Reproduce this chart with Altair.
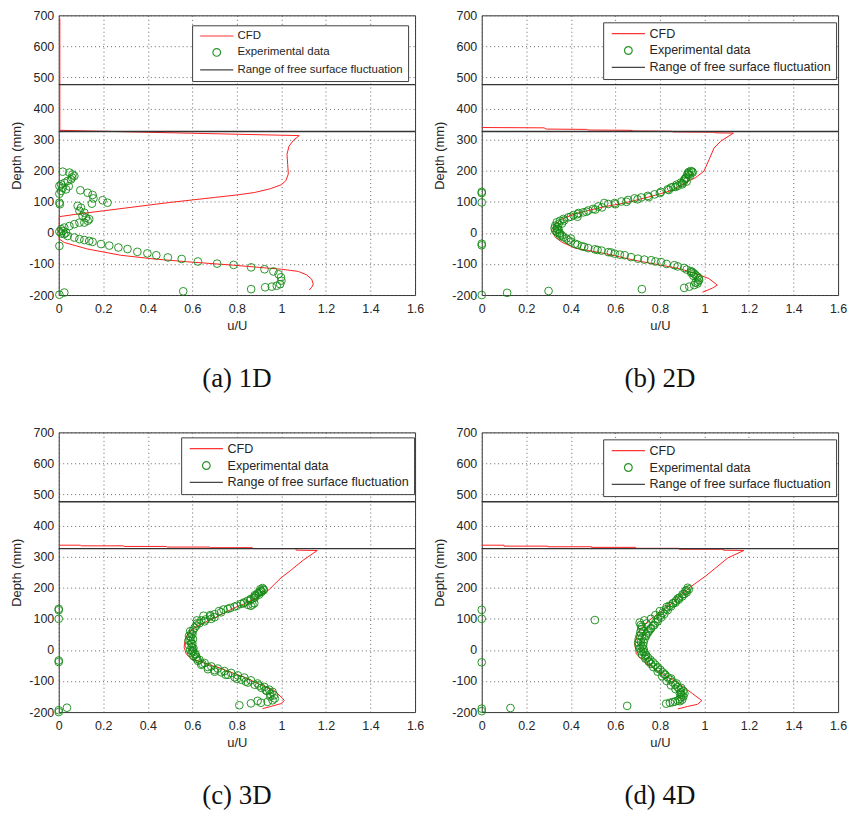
import altair as alt
import pandas as pd

# ---------------- data ----------------
SURFACE_LEVELS = [477, 326]
SERIES = ["CFD", "Experimental data", "Range of free surface fluctuation"]

# (a) 1D
A_CFD_U = [0.005, 0.005, 1.08, 1.054, 1.034, 1.025, 1.028, 1.031, 1.02, 1.0, 0.95, 0.88, 0.8, 0.7,
           0.6, 0.5, 0.4, 0.3, 0.2, 0.1, 0.0, 0.0, 0.003, 0.025, 0.13, 0.279, 0.428, 0.577, 0.785,
           0.9, 1.0, 1.076, 1.113, 1.136, 1.143, 1.136, 1.125]
A_CFD_D = [690, 330, 313, 298, 279, 253, 221, 190, 168, 155, 142, 130, 122, 114,
           106, 98, 89, 80, 71, 62, 52, -20, -20, -31, -52, -72, -84, -93, -104,
           -111, -117, -124, -135, -149, -165, -175, -184]
A_EXP_U = [0.018, 0.048, 0.062, 0.07, 0.055, 0.04, 0.026, 0.011, 0.003, 0.018, 0.033, 0.011, 0.003,
           0.003, 0.005, 0.097, 0.13, 0.152, 0.156, 0.197, 0.219, 0.149, 0.085, 0.1, 0.093, 0.115,
           0.107, 0.122, 0.13, 0.115, 0.137, 0.093, 0.07, 0.048, 0.025, 0.011, 0.003, 0.018, 0.033,
           0.04, 0.025, 0.011, 0.003, 0.07, 0.093, 0.115, 0.137, 0.152, 0.19, 0.227, 0.268, 0.309,
           0.353, 0.398, 0.438, 0.49, 0.552, 0.625, 0.711, 0.785, 0.864, 0.924, 0.964, 0.987, 0.998,
           1.0, 0.994, 0.979, 0.957, 0.927, 0.864, 0.003, 0.025, 0.559, 0.06, 0.045]
A_EXP_D = [197, 194, 188, 183, 172, 167, 161, 156, 151, 145, 140, 135, 126,
           97, 92, 137, 129, 122, 111, 105, 97, 94, 87, 81, 71, 65,
           55, 49, 39, 33, 44, 33, 28, 22, 17, 12, 4, 6, 1,
           -10, -4, -2, -42, -15, -20, -23, -26, -29, -36, -41, -47, -52,
           -61, -66, -72, -79, -84, -92, -99, -103, -111, -117, -124, -133, -143,
           -154, -165, -170, -173, -175, -181, -199, -192, -188, 178, 150]

# (b) 2D
B_CFD_U = [0.0, 0.28, 0.29, 0.47, 0.48, 0.67, 0.68, 0.85, 0.86, 1.04, 1.05, 1.13, 1.073, 1.043,
           1.021, 0.998, 0.961, 0.917, 0.887, 0.85, 0.768, 0.686, 0.619, 0.55, 0.471, 0.419, 0.36,
           0.322, 0.32, 0.33, 0.36, 0.419, 0.471, 0.55, 0.619, 0.686, 0.768, 0.887, 0.961, 1.02,
           1.058, 1.035, 0.991]
B_CFD_D = [339, 338, 334, 333, 331, 330, 328, 327, 325, 324, 322, 321, 295, 273,
           236, 199, 178, 162, 151, 136, 119, 104, 93, 84, 71, 61, 45,
           23, 2, -14, -30, -49, -56, -66, -77, -88, -99, -115, -131, -147,
           -168, -178, -191]
B_EXP_U = [0.0, 0.0, 0.0, 0.0, 0.0, 0.0, 0.114, 0.3, 0.719,
           0.939, 0.947, 0.924, 0.917, 0.909, 0.894, 0.88, 0.85, 0.835, 0.805, 0.776, 0.746, 0.716,
           0.686, 0.657, 0.627, 0.597, 0.568, 0.55, 0.523, 0.5, 0.478, 0.456, 0.434, 0.412, 0.389,
           0.367, 0.352, 0.337, 0.33, 0.327, 0.33, 0.337, 0.352, 0.367, 0.389, 0.419, 0.449, 0.478,
           0.508, 0.538, 0.568, 0.597, 0.642, 0.701, 0.761, 0.805, 0.865, 0.909, 0.939, 0.954, 0.969,
           0.976, 0.969, 0.954, 0.932, 0.909, 0.93, 0.925, 0.935, 0.91, 0.92, 0.9, 0.875, 0.86,
           0.96, 0.975, 0.97, 0.96, 0.95, 0.94, 0.345, 0.34, 0.35, 0.36, 0.4, 0.43,
           0.34, 0.345, 0.35, 0.36, 0.38, 0.4, 0.43, 0.46, 0.52, 0.58, 0.62, 0.67, 0.73, 0.78,
           0.83, 0.88, 0.92, 0.945, 0.37, 0.4, 0.43, 0.47, 0.51, 0.54, 0.6, 0.65, 0.7, 0.75,
           0.8, 0.84, 0.87, 0.9, 0.915, 0.93, 0.945]
B_EXP_D = [132, 128, 98, -35, -40, -200, -193, -187, -181,
           199, 194, 188, 178, 167, 162, 151, 146, 140, 132, 124, 119, 114,
           111, 106, 101, 96, 93, 96, 85, 77, 72, 66, 64, 57, 50,
           45, 39, 34, 23, 15, 7, 2, -9, -14, -24, -35, -43, -49,
           -53, -57, -62, -67, -72, -83, -88, -94, -104, -113, -123, -131, -141,
           -152, -163, -168, -173, -177, 196, 192, 185, 172, 165, 156, 155, 148,
           -136, -146, -157, -160, -138, -128, 28, 12, -3, 30, -18, 52,
           20, 10, 0, -8, -18, -28, -38, -45, -55, -63, -70, -78, -86, -92,
           -100, -108, -118, -126, 40, 52, 60, 68, 75, 82, 92, 100, 108, 115,
           128, 138, 148, 160, 175, 188, 197]

# (c) 3D
C_CFD_U = [0.0, 0.097, 0.1, 0.29, 0.293, 0.484, 0.487, 0.677, 0.68, 0.87, 0.873, 1.064, 1.067,
           1.161, 1.1, 1.04, 0.998, 0.946, 0.909, 0.833, 0.79, 0.714, 0.685, 0.611, 0.58, 0.568,
           0.563, 0.573, 0.595, 0.626, 0.685, 0.715, 0.759, 0.834, 0.909, 0.968, 1.004, 1.013,
           0.998, 0.952, 0.915]
C_CFD_D = [337, 337, 335, 335, 333, 333, 331, 331, 329, 329, 326, 326, 321,
           320, 290, 255, 232, 195, 176, 148, 136, 108, 99, 72, 52, 35,
           9, -14, -28, -36, -50, -56, -68, -88, -113, -131, -155, -163,
           -173, -182, -189]
C_EXP_U = [0.0, 0.0, 0.0, 0.0, 0.0, 0.0, 0.0, 0.037, 0.811, 0.863, 0.893,
           0.915, 0.908, 0.893, 0.885, 0.878, 0.863, 0.848, 0.833, 0.863, 0.818, 0.789, 0.759,
           0.729, 0.699, 0.685, 0.655, 0.632, 0.618, 0.61, 0.603, 0.595, 0.592, 0.592, 0.595,
           0.598, 0.603, 0.61, 0.618, 0.632, 0.655, 0.685, 0.714, 0.744, 0.774, 0.804, 0.833,
           0.863, 0.893, 0.923, 0.945, 0.96, 0.967, 0.97, 0.96, 0.938, 0.908,
           0.878, 0.87, 0.85, 0.88, 0.9, 0.905, 0.92, 0.6, 0.603, 0.6, 0.605, 0.615, 0.6, 0.62,
           0.64, 0.67, 0.7, 0.75, 0.8, 0.84, 0.9, 0.93, 0.95, 0.62, 0.65, 0.68,
           0.59, 0.585, 0.583, 0.585, 0.59, 0.595, 0.605, 0.625, 0.645, 0.67, 0.7, 0.73, 0.76,
           0.79, 0.82, 0.85, 0.88, 0.91, 0.935, 0.95, 0.62, 0.64, 0.66, 0.68, 0.7, 0.72, 0.74,
           0.77, 0.8, 0.83, 0.86, 0.88, 0.9, 0.91, 0.92]
C_EXP_D = [132, 128, 100, -34, -39, -194, -200, -186, -178, -172, -164,
           199, 190, 182, 174, 169, 164, 158, 153, 142, 148, 139, 132,
           121, 105, 100, 92, 86, 78, 71, 62, 52, 41, 30, 20,
           9, -2, -12, -23, -32, -42, -53, -60, -68, -74, -82, -89,
           -98, -108, -119, -128, -135, -146, -156, -162, -167, -170,
           150, 146, 145, 176, 185, 195, 192, 50, 35, 20, 5, -15, -5, -28,
           -48, -62, -70, -80, -93, -102, -115, -130, -150, 95, 110, 112,
           60, 45, 30, 15, 0, -10, -20, -35, -45, -55, -65, -72, -80,
           -88, -96, -105, -112, -122, -132, -142, 85, 95, 98, 108, 115, 125, 130,
           135, 142, 150, 160, 168, 178, 186, 195]

# (d) 4D
D_CFD_U = [0.0, 0.1, 0.1, 0.297, 0.297, 0.493, 0.493, 0.691, 0.691, 0.887, 0.887, 1.085, 1.085,
           1.177, 1.105, 1.006, 0.932, 0.858, 0.798, 0.739, 0.702, 0.687, 0.694, 0.724, 0.798,
           0.887, 0.947, 0.988, 0.969, 0.924, 0.88]
D_CFD_D = [337, 337, 334, 334, 332, 332, 330, 330, 327, 327, 324, 324, 321,
           320, 296, 238, 200, 152, 120, 88, 56, 19, -13, -34, -72,
           -109, -141, -163, -175, -182, -190]
D_EXP_U = [0.0, 0.0, 0.0, 0.0, 0.0, 0.129, 0.508, 0.653, 0.828,
           0.925, 0.915, 0.902, 0.887, 0.872, 0.858, 0.843, 0.828, 0.813, 0.802, 0.791, 0.78, 0.769,
           0.758, 0.746, 0.738, 0.731, 0.727, 0.724, 0.727, 0.731, 0.738, 0.746, 0.757, 0.769, 0.78,
           0.791, 0.802, 0.813, 0.824, 0.835, 0.846, 0.858, 0.869, 0.88, 0.888, 0.895, 0.897, 0.895,
           0.888, 0.88, 0.868, 0.858, 0.845,
           0.93, 0.92, 0.9, 0.885, 0.87, 0.85, 0.835, 0.82, 0.805, 0.79, 0.775, 0.76, 0.75, 0.74,
           0.709, 0.714, 0.716, 0.712, 0.709, 0.705, 0.702, 0.705, 0.71, 0.715, 0.72, 0.735, 0.75,
           0.77, 0.79, 0.81, 0.83, 0.85, 0.87, 0.89, 0.905, 0.905, 0.75,
           0.72, 0.725, 0.72, 0.715, 0.718, 0.725, 0.735, 0.76, 0.79, 0.82, 0.85, 0.875, 0.895,
           0.91, 0.9, 0.89, 0.76, 0.78, 0.8, 0.83, 0.86, 0.88, 0.91, 0.92, 0.74, 0.73]
D_EXP_D = [129, 100, -40, -189, -197, -187, 96, -180, -173,
           200, 190, 179, 168, 158, 150, 142, 131, 120, 110, 99, 88, 78,
           67, 56, 45, 35, 24, 14, 3, -8, -16, -24, -32, -40, -48,
           -56, -64, -72, -80, -88, -96, -104, -112, -120, -128, -136, -144, -152,
           -158, -163, -166, -168, -170,
           195, 185, 172, 162, 152, 140, 128, 116, 104, 92, 80, 70, 60, 50,
           88, 80, 67, 56, 46, 35, 24, 14, 5, -5, -15, -28, -38,
           -55, -70, -85, -100, -114, -126, -140, -150, -132, -36,
           75, 60, 40, 25, 10, -5, -20, -45, -60, -78, -92, -108, -122,
           -140, -160, -165, 100, 112, 125, 138, 150, 165, 180, 192, 85, 95]

# ---------------- styling ----------------
RED = "#ff1f1f"
GREEN = "#138a13"
DARK = "#333333"
TXT = "#262626"
SANS = "Liberation Sans"
LINE_SYMBOL = "M-4.3,0H4.3"

X_TICKS = [0, 0.2, 0.4, 0.6, 0.8, 1, 1.2, 1.4, 1.6]
Y_TICKS = [-200, -100, 0, 100, 200, 300, 400, 500, 600, 700]


def panel(cfd_u, cfd_d, exp_u, exp_d, caption, lx, ly, lfont, lrow):
    cfd = pd.DataFrame({"u": cfd_u, "d": cfd_d, "o": list(range(len(cfd_u)))})
    exp = pd.DataFrame({"u": exp_u, "d": exp_d, "s": ["Experimental data"] * len(exp_u)})
    surf = pd.DataFrame({"d": SURFACE_LEVELS})

    xs = alt.Scale(domain=[0, 1.6], nice=False, zero=False)
    ys = alt.Scale(domain=[-200, 700], nice=False, zero=False)
    xaxis = alt.Axis(values=X_TICKS, labelExpr="datum.value + ''", title="u/U")
    yaxis = alt.Axis(values=Y_TICKS, labelExpr="datum.value + ''", title="Depth (mm)")

    line = alt.Chart(cfd).mark_line(color=RED, strokeWidth=1, clip=True).encode(
        x=alt.X("u:Q", scale=xs, axis=xaxis),
        y=alt.Y("d:Q", scale=ys, axis=yaxis),
        order="o:Q",
    )
    pts = alt.Chart(exp).mark_point(filled=False, strokeWidth=1, size=60, opacity=0.9).encode(
        x=alt.X("u:Q", scale=xs, axis=xaxis),
        y=alt.Y("d:Q", scale=ys, axis=yaxis),
        color=alt.Color("s:N", scale=alt.Scale(domain=SERIES, range=[RED, GREEN, DARK]),
                        legend=alt.Legend(title=None, orient="none", legendX=lx, legendY=ly,
                                          labelFont=SANS, labelFontSize=lfont, labelColor=TXT,
                                          labelLimit=0, strokeColor="#404040", fillColor="white",
                                          padding=5, rowPadding=lrow, symbolSize=60,
                                          symbolOffset=14, labelOffset=15,
                                          symbolStrokeWidth=1.2, cornerRadius=0)),
        shape=alt.Shape("s:N", scale=alt.Scale(domain=SERIES,
                                               range=[LINE_SYMBOL, "circle", LINE_SYMBOL])),
    )
    rules = alt.Chart(surf).mark_rule(color=DARK, strokeWidth=1.4).encode(
        y=alt.Y("d:Q", scale=ys, axis=yaxis))

    return alt.layer(line, pts, rules).properties(
        width=358, height=281,
        title=alt.TitleParams(caption, orient="bottom", anchor="middle", font="Liberation Serif",
                              fontSize=27, fontWeight="normal", color="#111111", offset=34),
    )


pa = panel(A_CFD_U, A_CFD_D, A_EXP_U, A_EXP_D, "(a) 1D", 134, 10, 11.5, 3.5)
pb = panel(B_CFD_U, B_CFD_D, B_EXP_U, B_EXP_D, "(b) 2D", 122, 7, 12.6, 4)
pc = panel(C_CFD_U, C_CFD_D, C_EXP_U, C_EXP_D, "(c) 3D", 123, 5, 12.6, 4)
pd_ = panel(D_CFD_U, D_CFD_D, D_EXP_U, D_EXP_D, "(d) 4D", 122, 7, 12.6, 4)

chart = alt.concat(pa, pb, pc, pd_, columns=2, spacing={"row": 138, "column": 67},
                   bounds="flush").resolve_scale(
    color="independent", shape="independent",
).resolve_legend(
    color="independent", shape="independent",
).properties(
    padding={"left": 10, "top": 6.5, "right": 5, "bottom": 5},
    background="white",
).configure_view(
    stroke=DARK, strokeWidth=1,
).configure_axis(
    grid=True, gridColor="#555555", gridDash=[1, 3], gridWidth=1, gridOpacity=0.9,
    ticks=False, domain=False,
    labelFont=SANS, labelFontSize=12.5, labelColor=TXT, labelFlush=False, labelOverlap=False,
    titleFont=SANS, titleFontSize=13, titleColor=TXT, titleFontWeight="normal",
).configure_axisX(
    labelPadding=8, titlePadding=4,
).configure_axisY(
    labelPadding=5, titlePadding=5,
)

chart.save("out.html", embed_options={"renderer": "svg", "actions": False})
